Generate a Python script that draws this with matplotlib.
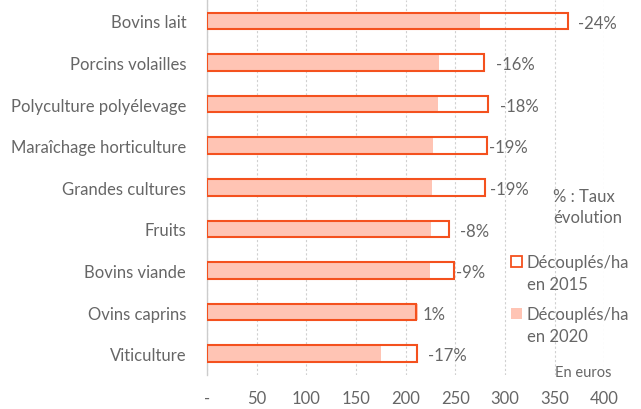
import matplotlib
matplotlib.use("Agg")
import matplotlib.pyplot as plt
from matplotlib.patches import Rectangle

categories = ["Bovins lait", "Porcins volailles", "Polyculture polyélevage",
              "Maraîchage horticulture", "Grandes cultures", "Fruits",
              "Bovins viande", "Ovins caprins", "Viticulture"]
val_2015 = [363, 279, 283, 282, 280, 244, 249, 210, 211]
val_2020 = [275, 234, 233, 228, 227, 226, 225, 212, 175]
pct_labels = ["-24%", "-16%", "-18%", "-19%", "-19%", "-8%", "-9%", "1%", "-17%"]
xticks = [0, 50, 100, 150, 200, 250, 300, 350, 400]
xtick_labels = ["-", "50", "100", "150", "200", "250", "300", "350", "400"]

# label offsets (layout, in data units)
label_gap = [11, 12, 12, 2, 5, 11, 2, 5, 11]

plt.rcParams['font.family'] = ['Lato', 'DejaVu Sans']
txt = "#666666"
edge = "#F4511E"
fill = "#FFC4B4"
fs = 12

fig = plt.figure(figsize=(6.41, 4.10), dpi=100)
ax = fig.add_axes([207/641, 1 - 375.5/410, (604.3-207)/641, 374.4/410])

y = list(range(len(categories)))
h = 0.4
ax.barh(y, val_2020, height=h, color=fill, edgecolor='none', zorder=2)
ax.barh(y, val_2015, height=h, facecolor='none', edgecolor=edge, linewidth=1.5, zorder=3)

for i, (v15, v20, lab) in enumerate(zip(val_2015, val_2020, pct_labels)):
    ax.text(max(v15, v20) + label_gap[i], i + 0.04, lab, va='center', ha='left',
            fontsize=fs, color=txt, zorder=4, clip_on=False)

ax.set_xlim(0, 400)
ax.set_ylim(len(categories) - 0.5, -0.5)
ax.set_yticks(y)
ax.set_yticklabels(categories, fontsize=fs, color=txt)
ax.set_xticks(xticks)
ax.set_xticklabels(xtick_labels, fontsize=fs, color=txt)
ax.tick_params(axis='both', length=0)
ax.tick_params(axis='x', pad=11)
ax.tick_params(axis='y', pad=15)
ax.xaxis.grid(True, linestyle=(0, (2, 2)), color="#d0d0d0", linewidth=0.8, zorder=0)
ax.set_axisbelow(True)
for s in ['top', 'right', 'bottom']:
    ax.spines[s].set_visible(False)
ax.spines['left'].set_color("#cccccc")
ax.spines['left'].set_linewidth(1.0)

# Legend / notes
fig.text(553/641, 1 - 197/410, "% : Taux", fontsize=fs, color=txt, va='center', ha='left')
fig.text(553/641, 1 - 218/410, "évolution", fontsize=fs, color=txt, va='center', ha='left')

fig.patches.append(Rectangle((511/641, 1 - 268/410), 11/641, 11/410,
                             transform=fig.transFigure, facecolor='white',
                             edgecolor=edge, linewidth=1.3))
fig.text(527/641, 1 - 263/410, "Découplés/ha", fontsize=fs, color=txt, va='center', ha='left')
fig.text(527/641, 1 - 285/410, "en 2015", fontsize=fs, color=txt, va='center', ha='left')

fig.patches.append(Rectangle((511/641, 1 - 320/410), 11/641, 11/410,
                             transform=fig.transFigure, facecolor=fill,
                             edgecolor='none'))
fig.text(527/641, 1 - 315/410, "Découplés/ha", fontsize=fs, color=txt, va='center', ha='left')
fig.text(527/641, 1 - 337/410, "en 2020", fontsize=fs, color=txt, va='center', ha='left')

fig.text(555/641, 1 - 373/410, "En euros", fontsize=10.5, color=txt, va='center', ha='left')

fig.savefig("out.png", dpi=100)
